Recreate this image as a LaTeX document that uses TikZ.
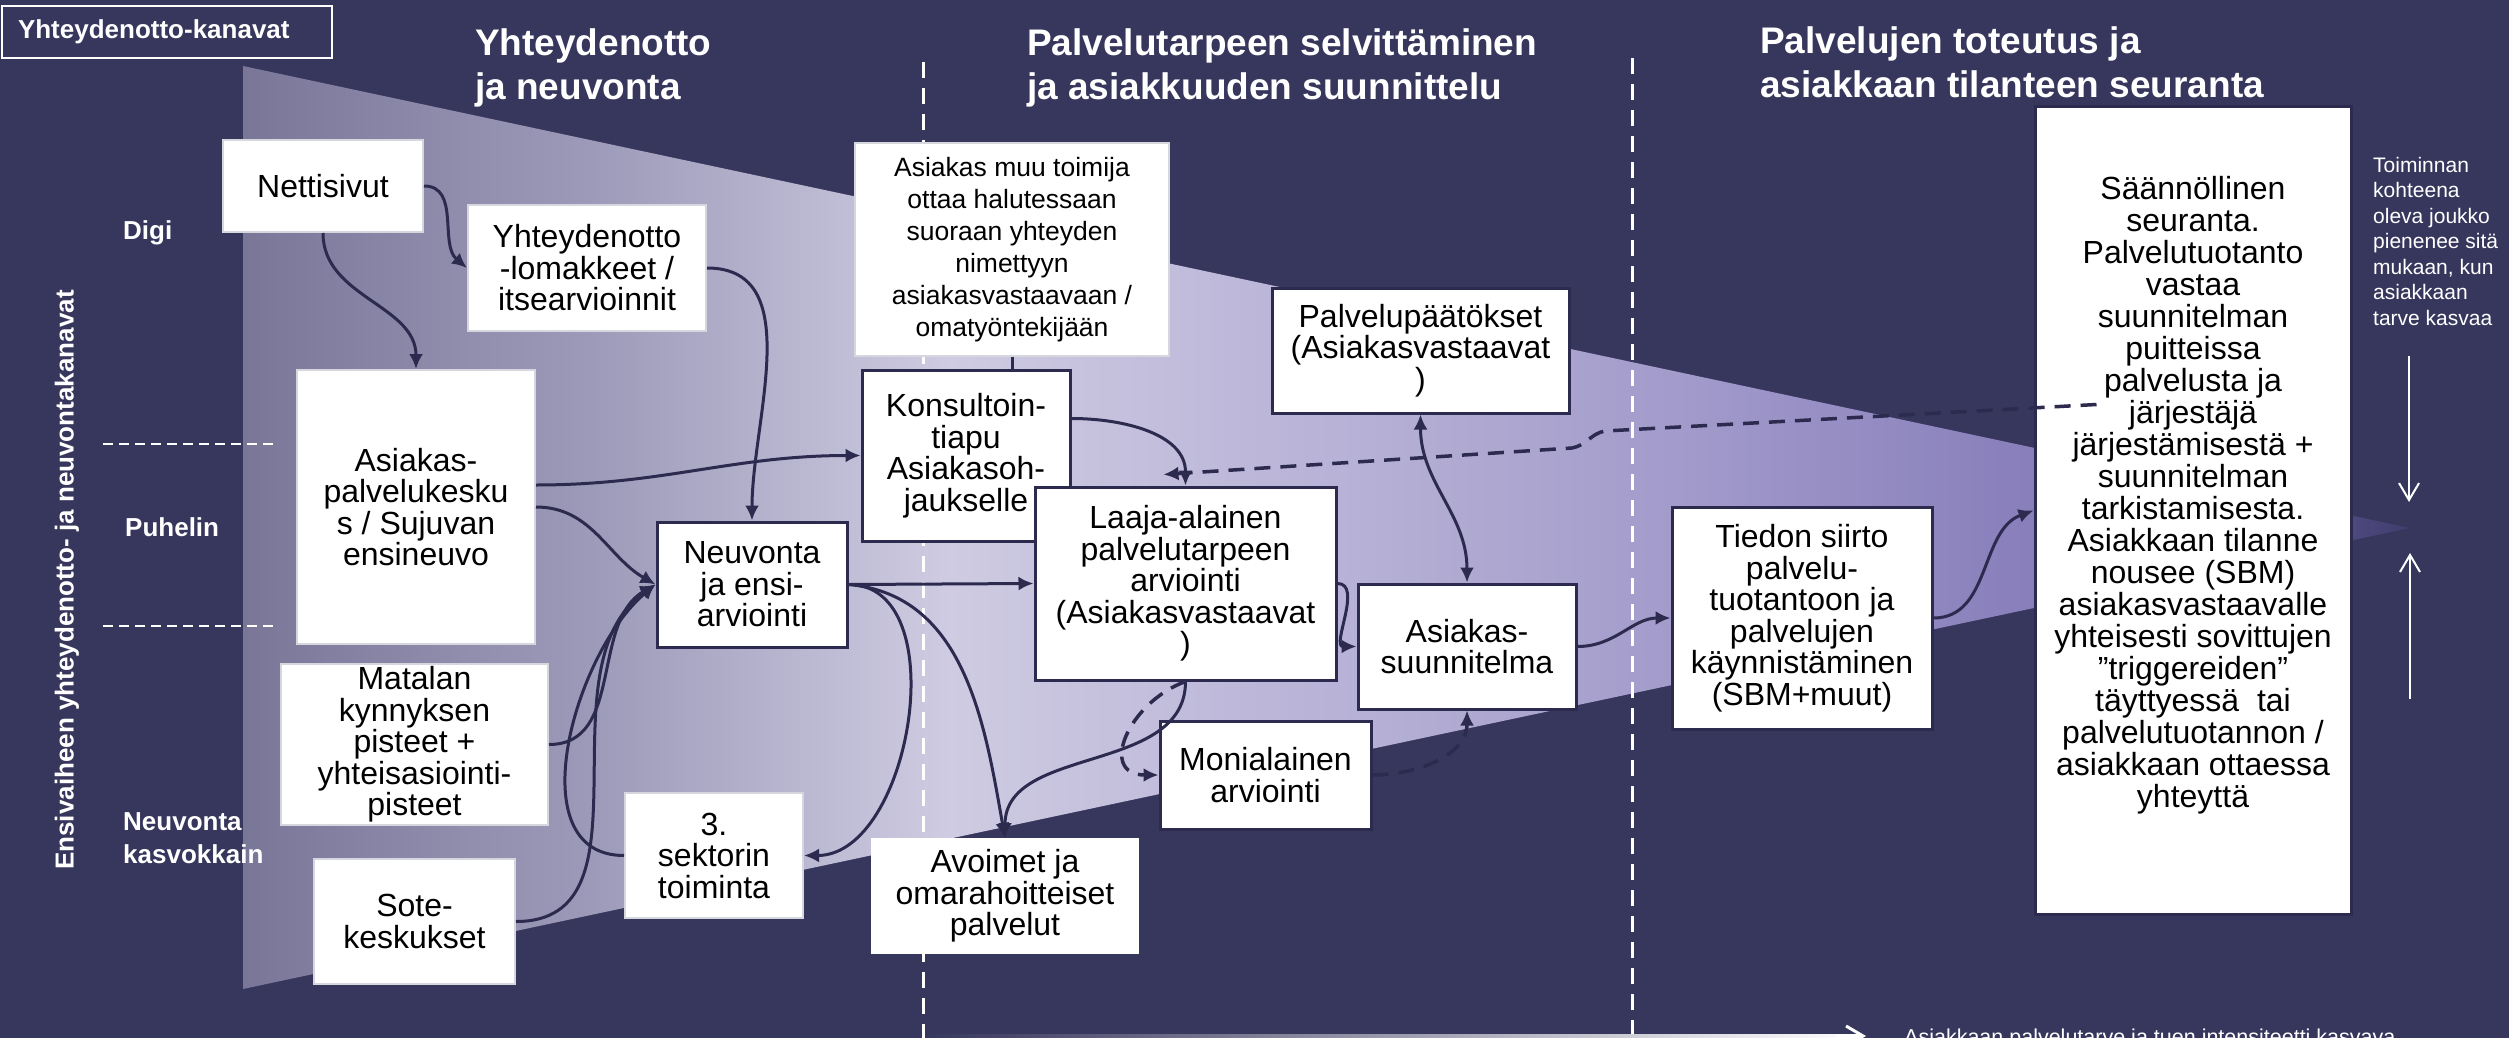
\documentclass[tikz,border=0pt]{standalone}
\usepackage{fontspec}
\setmainfont{Liberation Sans}
\usetikzlibrary{arrows.meta,calc}

\definecolor{navy}{RGB}{55,54,93}
\definecolor{linkcol}{RGB}{44,42,78}
\definecolor{boxgray}{RGB}{214,214,222}
\definecolor{fa}{RGB}{121,118,152}
\definecolor{fb}{RGB}{157,154,185}
\definecolor{fc}{RGB}{206,203,226}
\definecolor{fd}{RGB}{189,184,217}
\definecolor{fe}{RGB}{164,157,204}
\definecolor{ff}{RGB}{136,127,187}
\definecolor{fh}{RGB}{112,102,166}
\definecolor{fg}{RGB}{64,60,108}
\pgfdeclarehorizontalshading{funnelshade}{100bp}{color(0bp)=(fa); color(25bp)=(fa);
  color(33bp)=(fb); color(41.3bp)=(fc); color(48.2bp)=(fd); color(57.5bp)=(fe);
  color(66.2bp)=(ff); color(70.5bp)=(fh); color(75bp)=(fg); color(100bp)=(fg)}

\tikzset{
  lightbox/.style={draw=boxgray, line width=2pt, fill=white, align=center,
    inner sep=0pt, font=\fontsize{32}{31.5}\selectfont},
  darkbox/.style={lightbox, draw=linkcol, line width=3pt},
  link/.style={draw=linkcol, line width=3pt, -{Latex[length=15pt,width=14pt]}},
  both/.style={link, {Latex[length=15pt,width=14pt]}-{Latex[length=15pt,width=14pt]}},
  dlink/.style={link, line width=3.5pt, dash pattern=on 16pt off 10pt},
  head/.style={anchor=north west, inner sep=0pt, align=left, text=white,
    font=\fontsize{37}{44}\selectfont\bfseries},
  side/.style={anchor=west, inner sep=0pt, align=left, text=white,
    font=\fontsize{26}{33}\selectfont\bfseries},
  divider/.style={white, line width=3pt, dash pattern=on 16pt off 10pt},
  lane/.style={white, line width=2pt, dash pattern=on 10pt off 6pt},
  pointer/.style={white, line width=2pt, -{Straight Barb[length=17pt,width=20pt]}}
}

\begin{document}
\begin{tikzpicture}[x=1pt,y=-1pt]
  \useasboundingbox (0,0) rectangle (2509,1038);
  \clip (0,0) rectangle (2509,1038);
  \fill[navy] (0,0) rectangle (2509,1038);
  % funnel
  \shade[shading=funnelshade] (243,66) -- (2410,528) -- (243,989) -- cycle;
  \draw[divider] (923,62) -- (923,1038);
  \draw[divider] (1632,58) -- (1632,1038);
  \draw[lane] (103,444) -- (278,444);
  \draw[lane] (103,626) -- (278,626);

  \node[draw=white, line width=2.5pt, minimum width=330pt, minimum height=52pt,
    text width=298pt, align=left, inner sep=0pt, text=white,
    font=\fontsize{26}{30}\selectfont\bfseries]
    (kanavat) at (167,32) {Yhteydenotto-kanavat};
  \node[head] (vaihe1) at (475,28) {Yhteydenotto\\ja neuvonta};
  \node[head] (vaihe2) at (1027,28) {Palvelutarpeen selvittäminen\\ja asiakkuuden suunnittelu};
  \node[head] (vaihe3) at (1760,26) {Palvelujen toteutus ja\\asiakkaan tilanteen seuranta};

  \node[rotate=90, inner sep=0pt, text=white, font=\fontsize{26}{30}\selectfont\bfseries]
    (kanavatyypit) at (67,580) {Ensivaiheen yhteydenotto- ja neuvontakanavat};
  \node[side] (digi) at (123,233) {Digi};
  \node[side] (puhelin) at (125,527) {Puhelin};
  \node[side] (kasvokkain) at (123,838) {Neuvonta\\kasvokkain};

  \node[lightbox, minimum width=200pt, minimum height=92pt] (netti) at (323,186) {Nettisivut};
  \node[lightbox, minimum width=238pt, minimum height=126pt] (lomake) at (587,268)
    {Yhteydenotto\\-lomakkeet /\\itsearvioinnit};
  \node[lightbox, minimum width=238pt, minimum height=274pt] (palvelukeskus) at (416,507)
    {Asiakas-\\palvelukesku\\s / Sujuvan\\ensineuvo};
  \node[lightbox, minimum width=267pt, minimum height=161pt] (matala) at (414.5,744.5)
    {Matalan\\kynnyksen\\pisteet +\\yhteisasiointi-\\pisteet};
  \node[lightbox, minimum width=201pt, minimum height=125pt] (sote) at (414.5,921.5)
    {Sote-\\keskukset};
  \node[darkbox, minimum width=190pt, minimum height=125pt] (neuvonta) at (752,584.5)
    {Neuvonta\\ja ensi-\\arviointi};
  \node[lightbox, minimum width=178pt, minimum height=125pt] (sektori) at (714,855.5)
    {3.\\sektorin\\toiminta};
  \node[lightbox, minimum width=314pt, minimum height=213pt,
    font=\fontsize{26.5}{32}\selectfont] (muutoimija) at (1012,249.5)
    {Asiakas muu toimija\\ottaa halutessaan\\suoraan yhteyden\\nimettyyn\\asiakasvastaavaan /\\omatyöntekijään};
  \node[darkbox, minimum width=208pt, minimum height=171pt] (konsultointi) at (966,455.5)
    {Konsultoin-\\tiapu\\Asiakasoh-\\jaukselle};
  \node[darkbox, minimum width=301pt, minimum height=193pt] (laaja) at (1185.5,583.5)
    {Laaja-alainen\\palvelutarpeen\\arviointi\\(Asiakasvastaavat\\)};
  \node[darkbox, minimum width=297pt, minimum height=125pt] (paatokset) at (1420.5,350.5)
    {Palvelupäätökset\\(Asiakasvastaavat\\)};
  \node[darkbox, minimum width=218pt, minimum height=125pt] (suunnitelma) at (1467,646.5)
    {Asiakas-\\suunnitelma};
  \node[darkbox, minimum width=211pt, minimum height=108pt] (moniala) at (1265.5,775)
    {Monialainen\\arviointi};
  \node[lightbox, draw=white, minimum width=266pt, minimum height=114pt] (avoimet) at (1005,896)
    {Avoimet ja\\omarahoitteiset\\palvelut};
  \node[darkbox, minimum width=260pt, minimum height=222pt] (tiedon) at (1802,618)
    {Tiedon siirto\\palvelu-\\tuotantoon ja\\palvelujen\\käynnistäminen\\(SBM+muut)};
  \node[darkbox, minimum width=316pt, minimum height=807pt] (seuranta) at (2193,510.5) {};
  \node[align=center, inner sep=0pt, font=\fontsize{32}{32}\selectfont] (seurantateksti)
    at (2193,495) {Säännöllinen\\seuranta.\\Palvelutuotanto\\vastaa\\suunnitelman\\puitteissa\\palvelusta ja\\järjestäjä\\järjestämisestä +\\suunnitelman\\tarkistamisesta.\\Asiakkaan tilanne\\nousee (SBM)\\asiakasvastaavalle\\yhteisesti sovittujen\\”triggereiden”\\täyttyessä~ tai\\palvelutuotannon /\\asiakkaan ottaessa\\yhteyttä};

  \node[anchor=north west, inner sep=0pt, align=left, text=white,
    font=\fontsize{21}{25.5}\selectfont] (kohde) at (2373,157)
    {Toiminnan\\kohteena\\oleva joukko\\pienenee sitä\\mukaan, kun\\asiakkaan\\tarve kasvaa};
  \coordinate (alasalku) at (2409,356);
  \coordinate (alasloppu) at (2409,502);
  \coordinate (ylosalku) at (2410,699);
  \coordinate (ylosloppu) at (2410,553);
  \draw[pointer] (alasalku) -- (alasloppu);
  \draw[pointer] (ylosalku) -- (ylosloppu);

  % bottom axis
  \coordinate (akselialku) at (925,1036);
  \coordinate (akseliloppu) at (1866,1036);
  \shade[left color=navy, right color=white] ($(akselialku)+(0,-2)$) rectangle ($(akseliloppu)+(-6,2)$);
  \draw[pointer, line width=3pt] ($(akseliloppu)+(-30,0)$) -- (akseliloppu);
  \node[anchor=north west, inner sep=0pt, text=white, font=\fontsize{21.5}{26}\selectfont]
    (intensiteetti) at (1904,1029) {Asiakkaan palvelutarve ja tuen intensiteetti kasvava};

  % connectors
  \draw[link] (netti.east) to[out=0,in=140] (lomake.west);
  \draw[link] (netti.south) to[out=-90,in=90] (palvelukeskus.north);
  \draw[link] (lomake.east) to[out=0,in=90] (neuvonta.north);
  \draw[link] ([yshift=22pt]palvelukeskus.east) to[out=0,in=180] (konsultointi.west);
  \draw[link] (palvelukeskus.east) to[out=0,in=150] (neuvonta.west);
  \draw[link] (matala.east) to[out=0,in=210] (neuvonta.west);
  \draw[link] (sote.east) to[out=0,in=215] (neuvonta.west);
  \draw[link] (sektori.west) to[out=180,in=220] (neuvonta.west);
  \draw[link] (neuvonta.east) -- (laaja.west);
  \draw[link] (neuvonta.east) to[out=0,in=0] (sektori.east);
  \draw[link] (neuvonta.east) to[out=-5,in=100] (avoimet.north);
  \draw[link] (laaja.south) to[out=-90,in=90] (avoimet.north);
  \draw[dlink] (laaja.south) to[out=200,in=180,looseness=1.6] (moniala.west);
  \draw[dlink] (moniala.east) to[out=0,in=-90] (suunnitelma.south);
  \draw[link] (laaja.east) to[out=0,in=180] (suunnitelma.west);
  \draw[both] (paatokset.south) to[out=-90,in=90] (suunnitelma.north);
  \draw[link] ([yshift=37pt]konsultointi.east) to[out=0,in=90] (laaja.north);
  \draw[line width=3pt, linkcol] (muutoimija.south) -- (muutoimija.south |- konsultointi.north);
  \draw[link] (suunnitelma.east) to[out=0,in=180] (tiedon.west);
  \draw[link] (tiedon.east) to[out=0,in=200] (seuranta.west);
  \draw[dlink] ([xshift=63pt,yshift=106pt]seuranta.west) -- (1605,431)
    to[out=190,in=10] (1572,448) -- ([xshift=-22pt,yshift=11pt]laaja.north);
\end{tikzpicture}
\end{document}
